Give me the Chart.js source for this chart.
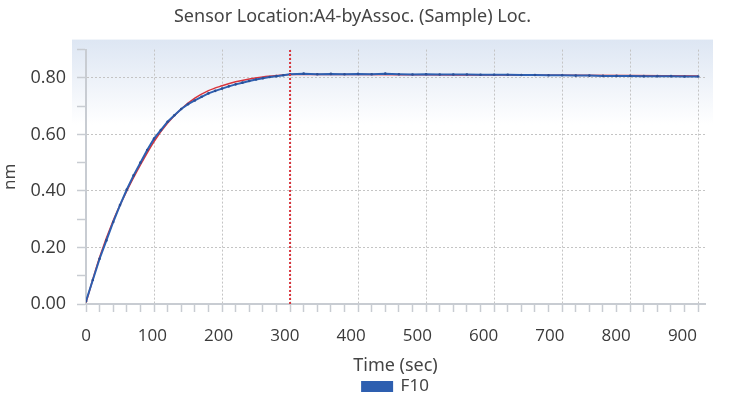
<!DOCTYPE html>
<html>
<head>
<meta charset="utf-8">
<script src="https://cdn.jsdelivr.net/npm/chart.js@4.4.1/dist/chart.umd.min.js"></script>
<style>
  html, body { margin: 0; padding: 0; background: #fff; }
</style>
</head>
<body>
<canvas id="chart" width="751" height="397"></canvas>
<script>
// F10 sensor trace (time in sec, response in nm)
const timeSec = [0, 10, 20, 30, 40, 50, 60, 70, 80, 90, 100, 110, 120, 130, 140, 150, 160, 170, 180, 190, 200,
  210, 220, 230, 240, 250, 260, 270, 280, 290, 300, 320, 340, 360, 380, 400, 420, 440, 460, 480, 500,
  520, 540, 560, 580, 600, 620, 640, 660, 680, 700, 720, 740, 760, 780, 800, 820, 840, 860, 880, 900];
const f10Values = [0.010, 0.085, 0.160, 0.225, 0.290, 0.350, 0.405, 0.455, 0.500, 0.545, 0.585, 0.615, 0.645, 0.668, 0.690, 0.707, 0.720, 0.733, 0.745, 0.754, 0.762,
  0.770, 0.777, 0.783, 0.789, 0.794, 0.799, 0.803, 0.806, 0.809, 0.813, 0.815, 0.813, 0.814, 0.813, 0.814, 0.813, 0.815, 0.813, 0.812, 0.813,
  0.812, 0.812, 0.812, 0.811, 0.811, 0.811, 0.810, 0.810, 0.809, 0.809, 0.808, 0.808, 0.807, 0.807, 0.807, 0.806, 0.806, 0.806, 0.805, 0.805];

// fitted curve
const fitTime = [0, 20, 40, 60, 80, 100, 120, 140, 160, 180, 200, 220, 240, 260, 280, 300, 400, 500, 600, 700, 800, 900];
const fitValues = [0.005, 0.165, 0.295, 0.400, 0.492, 0.575, 0.640, 0.690, 0.728, 0.755, 0.772, 0.786, 0.796, 0.803, 0.808, 0.812, 0.812, 0.811, 0.810, 0.809, 0.808, 0.807];

// association -> dissociation step
const stepTime = 300;

const xMin = 0, xMax = 910;
const yMin = 0, yMax = 0.9;
const yLabelValues = [0, 0.2, 0.4, 0.6, 0.8];

const blue = '#2e5fb0';
const red = '#d8343c';
const axisGray = '#c8ccd2';
const gridGray = '#c4c4c4';

const isMajorX = v => Math.round(v) % 100 === 0;
const isMajorY = v => yLabelValues.some(l => Math.abs(l - v) < 1e-6);

const plotBackground = {
  id: 'plotBackground',
  beforeDraw(chart) {
    const {ctx, chartArea: a} = chart;
    const g = ctx.createLinearGradient(0, a.top - 10, 0, a.top + 75);
    g.addColorStop(0, '#dde6f3');
    g.addColorStop(1, '#ffffff');
    ctx.save();
    ctx.fillStyle = g;
    ctx.fillRect(a.left - 14, a.top - 10, a.right - a.left + 22, a.bottom - a.top + 20);
    ctx.restore();
  }
};

const data = {
  datasets: [{
    label: 'step',
    data: [{x: stepTime, y: yMin}, {x: stepTime, y: yMax}],
    borderColor: red,
    borderWidth: 2,
    borderDash: [2, 2],
    pointRadius: 0
  }, {
    label: 'F10',
    data: timeSec.map((t, i) => ({x: t, y: f10Values[i]})),
    borderColor: blue,
    backgroundColor: blue,
    borderWidth: 2,
    pointRadius: 1.3,
    pointBackgroundColor: '#2a4f96',
    pointBorderWidth: 0,
    tension: 0
  }, {
    label: 'fit',
    data: fitTime.map((t, i) => ({x: t, y: fitValues[i]})),
    borderColor: red,
    borderWidth: 1.5,
    pointRadius: 0,
    cubicInterpolationMode: 'monotone'
  }]
};

const config = {
  type: 'line',
  data: data,
  plugins: [plotBackground],
  options: {
    responsive: false,
    animation: false,
    layout: { padding: { left: 0, right: 46, top: 0, bottom: -8 } },
    plugins: {
      title: {
        display: true,
        text: 'Sensor Location:A4-byAssoc. (Sample) Loc.',
        color: '#444',
        font: { family: 'Noto Sans', size: 18, weight: 'normal' },
        padding: { top: 6, bottom: 22 }
      },
      legend: {
        position: 'bottom',
        fullSize: false,
        labels: {
          filter: item => item.text === 'F10',
          boxWidth: 30,
          boxHeight: 9,
          padding: 2,
          color: '#444',
          font: { family: 'Noto Sans', size: 17 }
        }
      },
      tooltip: { enabled: false }
    },
    scales: {
      x: {
        type: 'linear',
        position: 'bottom',
        weight: 0,
        min: xMin,
        max: xMax,
        afterFit: s => { s.height = 10; },
        ticks: { display: false, stepSize: 20, autoSkip: false, includeBounds: false },
        grid: {
          color: c => isMajorX(c.tick.value) ? gridGray : 'rgba(0,0,0,0)',
          lineWidth: 1,
          tickColor: axisGray,
          tickLength: 8,
          tickWidth: 1.5
        },
        border: { color: axisGray, width: 2, dash: [2, 2] }
      },
      x2: {
        type: 'linear',
        position: 'bottom',
        axis: 'x',
        weight: 1,
        min: 0,
        max: 934,
        afterFit: s => { s.height = 62; },
        ticks: {
          stepSize: 100,
          includeBounds: false,
          padding: 4,
          color: '#3a3a3a',
          font: { family: 'Open Sans', size: 17 },
          maxRotation: 0
        },
        grid: { display: false },
        border: { display: false },
        title: {
          display: true,
          text: 'Time (sec)',
          color: '#444',
          font: { family: 'Noto Sans', size: 18 },
          padding: { top: 0, bottom: -1 }
        }
      },
      y: {
        type: 'linear',
        min: yMin,
        max: yMax,
        afterFit: s => { s.width = 86; },
        ticks: {
          stepSize: 0.1,
          autoSkip: false,
          padding: 11,
          color: '#3a3a3a',
          font: { family: 'Open Sans', size: 18 },
          callback: v => isMajorY(v) ? v.toFixed(2) : ''
        },
        grid: {
          color: c => (isMajorY(c.tick.value) && c.tick.value > 0) ? gridGray : 'rgba(0,0,0,0)',
          lineWidth: 1,
          tickColor: axisGray,
          tickLength: 9,
          tickWidth: 1.5
        },
        border: { color: axisGray, width: 2, dash: [2, 2] },
        title: {
          display: true,
          text: 'nm',
          color: '#444',
          font: { family: 'Noto Sans', size: 17 },
          padding: { top: 0, bottom: 0 }
        }
      }
    }
  }
};

var chartElem = new Chart(document.getElementById('chart'), config);
</script>
</body>
</html>
